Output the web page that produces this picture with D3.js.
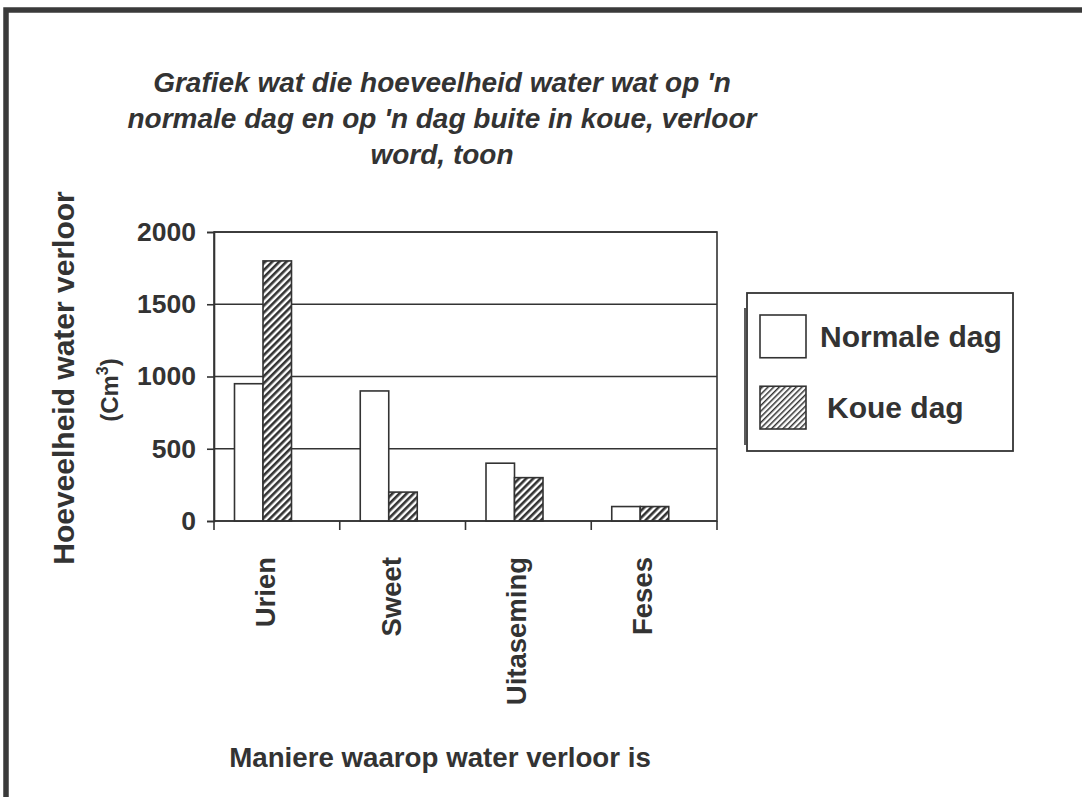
<!DOCTYPE html>
<html>
<head>
<meta charset="utf-8">
<script src="https://cdn.jsdelivr.net/npm/d3@7"></script>
<style>
  html, body { margin: 0; padding: 0; background: #fff; }
  svg { display: block; }
  text { font-family: "Liberation Sans", Arial, sans-serif; font-weight: bold; fill: #333; }
</style>
</head>
<body>
<svg id="chart" width="1082" height="797"></svg>
<script>
const categories = ["Urien", "Sweet", "Uitaseming", "Feses"];
const seriesNames = ["Normale dag", "Koue dag"];
const normaleDag = [950, 900, 400, 100];
const koueDag = [1800, 200, 300, 100];
const yTicks = [0, 500, 1000, 1500, 2000];
const titleLines = ["Grafiek wat die hoeveelheid water wat op 'n", "normale dag en op 'n dag buite in koue, verloor", "word, toon"];

const ink = "#333";
const svg = d3.select("#chart");

// outer frame (top and left edges visible)
svg.append("rect").attr("x", 6).attr("y", 10).attr("width", 1200).attr("height", 900)
  .attr("fill", "none").attr("stroke", "#3a3a3a").attr("stroke-width", 5.5);

const defs = svg.append("defs");
const pat = defs.append("pattern").attr("id", "hatch").attr("patternUnits", "userSpaceOnUse")
  .attr("width", 5).attr("height", 5).attr("patternTransform", "rotate(45)");
pat.append("rect").attr("width", 5).attr("height", 5).attr("fill", "#fff");
pat.append("rect").attr("width", 2.6).attr("height", 5).attr("fill", ink);

const pat2 = defs.append("pattern").attr("id", "hatchFine").attr("patternUnits", "userSpaceOnUse")
  .attr("width", 4).attr("height", 4).attr("patternTransform", "rotate(45)");
pat2.append("rect").attr("width", 4).attr("height", 4).attr("fill", "#fff");
pat2.append("rect").attr("width", 1.5).attr("height", 4).attr("fill", ink);

const plot = { left: 214, right: 717, top: 232, bottom: 521 };

const x = d3.scaleBand().domain(categories).range([plot.left, plot.right]).padding(0);
const xInner = d3.scaleBand().domain(seriesNames).range([20.5, 20.5 + 57]).padding(0);
const y = d3.scaleLinear().domain([0, 2000]).range([plot.bottom, plot.top]);

// gridlines
svg.append("g").selectAll("line").data(yTicks.filter(d => d > 0)).join("line")
  .attr("x1", plot.left).attr("x2", plot.right)
  .attr("y1", d => y(d)).attr("y2", d => y(d))
  .attr("stroke", ink).attr("stroke-width", 1.6);

// plot border
svg.append("rect").attr("x", plot.left).attr("y", plot.top)
  .attr("width", plot.right - plot.left).attr("height", plot.bottom - plot.top)
  .attr("fill", "none").attr("stroke", ink).attr("stroke-width", 1.6);

// bars
const data = categories.map((c, i) => ({ cat: c, values: [
  { s: seriesNames[0], v: normaleDag[i] },
  { s: seriesNames[1], v: koueDag[i] }
]}));
const groups = svg.append("g").selectAll("g").data(data).join("g")
  .attr("transform", d => `translate(${x(d.cat)},0)`);
groups.selectAll("rect").data(d => d.values).join("rect")
  .attr("x", d => xInner(d.s))
  .attr("width", xInner.bandwidth())
  .attr("y", d => y(d.v))
  .attr("height", d => y(0) - y(d.v))
  .attr("fill", d => d.s === seriesNames[0] ? "#fff" : "url(#hatch)")
  .attr("stroke", ink).attr("stroke-width", 1.6);

// y axis
const yAxis = svg.append("g").attr("transform", `translate(${plot.left},0)`)
  .call(d3.axisLeft(y).tickValues(yTicks).tickSize(7).tickPadding(11).tickFormat(d3.format("d")));
yAxis.select(".domain").attr("stroke", ink).attr("stroke-width", 1.6);
yAxis.selectAll(".tick line").attr("stroke", ink).attr("stroke-width", 1.6);
yAxis.selectAll(".tick text").attr("font-size", 26.5).attr("fill", ink)
  .style("font-family", "'Liberation Sans', Arial, sans-serif").style("font-weight", "bold");

// x axis ticks
const xAxis = svg.append("g").attr("transform", `translate(0,${plot.bottom})`);
const boundaries = categories.map(c => x(c)).concat([plot.right]);
xAxis.selectAll("line").data(boundaries).join("line")
  .attr("x1", d => d).attr("x2", d => d).attr("y1", 0).attr("y2", 9)
  .attr("stroke", ink).attr("stroke-width", 1.6);
xAxis.append("line").attr("x1", plot.left).attr("x2", plot.right).attr("y1", 0).attr("y2", 0)
  .attr("stroke", ink).attr("stroke-width", 1.6);

// x labels rotated
svg.append("g").selectAll("text").data(categories).join("text")
  .attr("transform", d => `translate(${x(d) + x.bandwidth() / 2 - 2},557) rotate(-90)`)
  .attr("text-anchor", "end").attr("font-size", 27.5)
  .text(d => d);

// title
svg.append("g").selectAll("text").data(titleLines).join("text")
  .attr("x", 442).attr("y", (d, i) => 92 + i * 36)
  .attr("text-anchor", "middle").attr("font-size", 28).attr("font-style", "italic")
  .text(d => d);

// y title
svg.append("text").attr("transform", "translate(74,378) rotate(-90)")
  .attr("text-anchor", "middle").attr("font-size", 30)
  .text("Hoeveelheid water verloor");
const cm = svg.append("text").attr("transform", "translate(118,390) rotate(-90)")
  .attr("text-anchor", "middle").attr("font-size", 24);
cm.append("tspan").text("(Cm");
cm.append("tspan").attr("font-size", 16).attr("dy", -10).text("3");
cm.append("tspan").attr("dy", 10).text(")");

// x title
svg.append("text").attr("x", 440).attr("y", 767).attr("text-anchor", "middle")
  .attr("font-size", 27.7).text("Maniere waarop water verloor is");

// legend
const lg = svg.append("g");
lg.append("line").attr("x1", 745).attr("x2", 745).attr("y1", 308).attr("y2", 445)
  .attr("stroke", ink).attr("stroke-width", 1.6);
lg.append("rect").attr("x", 747).attr("y", 293).attr("width", 266).attr("height", 158)
  .attr("fill", "#fff").attr("stroke", ink).attr("stroke-width", 1.8);
const legendY = d3.scaleBand().domain(seriesNames).range([315, 429]).paddingInner(0.4);
const items = lg.selectAll("g.item").data(seriesNames).join("g").attr("class", "item");
items.append("rect").attr("x", 760).attr("y", d => legendY(d))
  .attr("width", 46).attr("height", legendY.bandwidth())
  .attr("fill", (d, i) => i === 0 ? "#fff" : "url(#hatchFine)")
  .attr("stroke", ink).attr("stroke-width", 1.6);
items.append("text").attr("x", (d, i) => i === 0 ? 820 : 827)
  .attr("y", d => legendY(d) + legendY.bandwidth() / 2 + 10.5)
  .attr("font-size", 30).text(d => d);
</script>
</body>
</html>
